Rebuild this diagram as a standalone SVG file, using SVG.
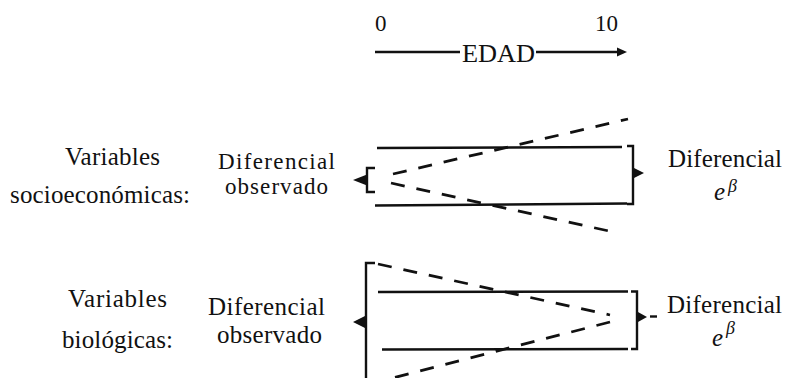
<svg xmlns="http://www.w3.org/2000/svg" width="786" height="378" viewBox="0 0 786 378">
<style>
text{font-family:"Liberation Serif","Times New Roman",serif;fill:#111}
.lbl{font-size:25px}
.obs{font-size:23px}
.num{font-size:23px}
.it{font-style:italic}
.solid{stroke:#111;stroke-width:2.6;fill:none}
.brk{stroke:#111;stroke-width:2.4;fill:none}
.dash{stroke:#111;stroke-width:2.8;fill:none;stroke-dasharray:14 12}
.head{fill:#111}
</style>
<rect width="786" height="378" fill="#fff"/>
<g id="axis">
<text class="num" x="375" y="31">0</text>
<text class="num" x="595" y="31">10</text>
<line class="solid" x1="375" y1="52" x2="460" y2="52"/>
<text class="num" x="462" y="61.5" style="font-size:25px" textLength="73" lengthAdjust="spacingAndGlyphs">EDAD</text>
<line class="solid" x1="536" y1="52" x2="620" y2="52"/>
<polygon class="head" points="627,52 617,47.5 617,56.5"/>
</g>
<g id="row1-label">
<text class="lbl" x="65" y="165" textLength="95">Variables</text>
<text class="lbl" x="10" y="203" textLength="180">socioeconómicas:</text>
</g>
<g id="row1-observed">
<text class="obs" x="218" y="168.5" textLength="117">Diferencial</text>
<text class="obs" x="225" y="194" textLength="103">observado</text>
</g>
<g id="row1-figure">
<line class="solid" x1="377" y1="148" x2="622" y2="147"/>
<line class="solid" x1="375" y1="205.5" x2="627" y2="203.5"/>
<polyline class="brk" points="375,168 367,168 367,192 375,192"/>
<polyline class="brk" points="627,146 633,146 633,204 627,204"/>
<line class="dash" x1="393" y1="174" x2="628" y2="119"/>
<line class="dash" x1="391" y1="183" x2="618" y2="233"/>
</g>
<g id="row1-beta">
<text class="lbl" x="668" y="167" textLength="114">Diferencial</text>
<text class="lbl it" x="714" y="200">e</text>
<text class="it" x="728" y="192" style="font-size:18px">β</text>
</g>
<g id="row2-label">
<text class="lbl" x="68" y="307" textLength="99">Variables</text>
<text class="lbl" x="62" y="348" textLength="111">biológicas:</text>
</g>
<g id="row2-observed">
<text class="lbl" x="208" y="315" textLength="117">Diferencial</text>
<text class="lbl" x="217" y="343" textLength="105">observado</text>
</g>
<g id="row2-figure">
<line class="solid" x1="378" y1="292" x2="628" y2="291.5"/>
<line class="solid" x1="382" y1="349.5" x2="628" y2="349"/>
<polyline class="brk" points="375,263 366,263 366,380"/>
<polyline class="brk" points="631,291.5 637,291.5 637,349 631,349"/>
<line class="dash" x1="378" y1="264" x2="610" y2="315"/>
<line class="dash" x1="610" y1="322" x2="385" y2="380"/>
<line class="brk" x1="650" y1="316.5" x2="657" y2="316.5"/>
</g>
<g id="row2-beta">
<text class="lbl" x="667" y="313" textLength="115">Diferencial</text>
<text class="lbl it" x="712" y="346">e</text>
<text class="it" x="726" y="334" style="font-size:18px">β</text>
</g>
<g id="connectors">
<polygon class="head" points="353,180 367,174.5 367,185.5"/>
<polygon class="head" points="644,173 633,167.5 633,178.5"/>
<polygon class="head" points="353,322 366,315.5 366,328.5"/>
<polygon class="head" points="647,317 637,311.5 637,322.5"/>
</g>
</svg>
